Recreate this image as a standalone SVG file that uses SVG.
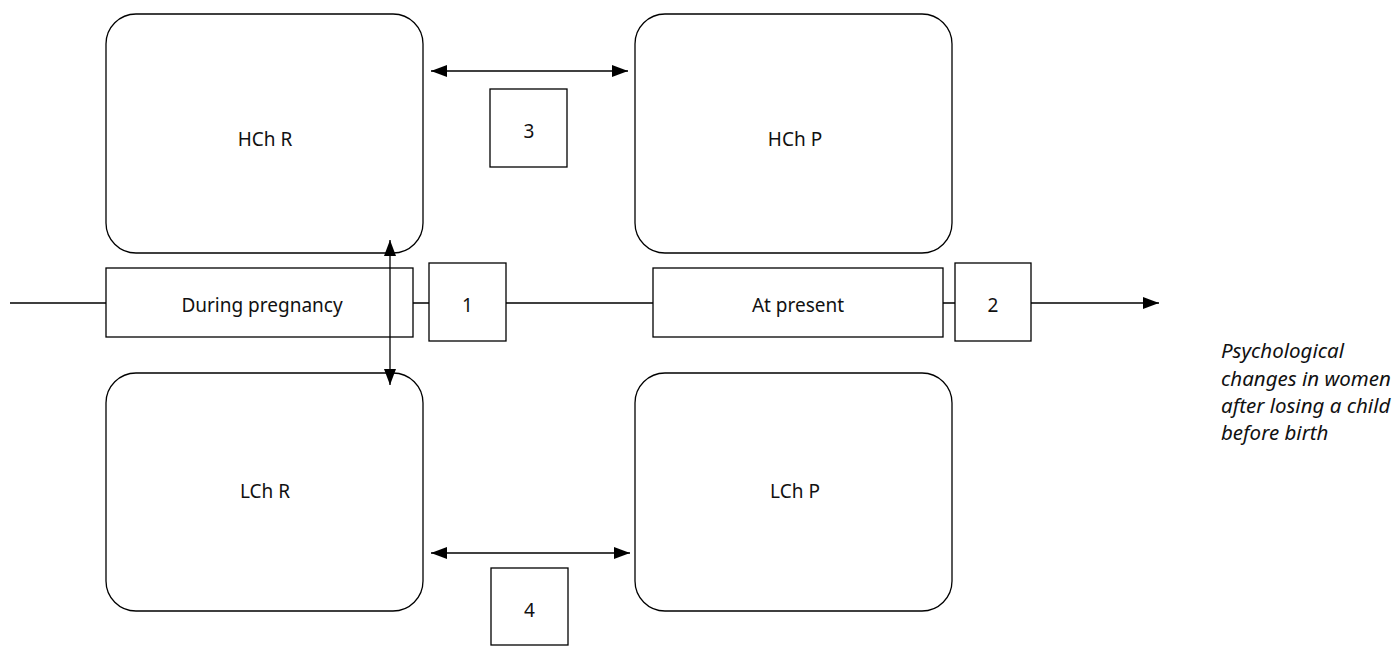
<svg xmlns="http://www.w3.org/2000/svg" width="1399" height="653" viewBox="0 0 1399 653">
<style>
.box{fill:#fff;stroke:#000;stroke-width:1.3}
.ln{fill:none;stroke:#000;stroke-width:1.3}
.t{font-family:"Noto Sans","Liberation Sans",sans-serif;font-size:19px;fill:#111;text-anchor:middle}
.cap{font-family:"Noto Sans","Liberation Sans",sans-serif;font-size:20.5px;font-style:italic;fill:#111}
</style>
<defs>
<marker id="ah" viewBox="0 0 16 12" refX="16" refY="6" markerWidth="16" markerHeight="12" markerUnits="userSpaceOnUse" orient="auto-start-reverse">
<path d="M0,0 L16,6 L0,12 z" fill="#000"/>
</marker>
</defs>
<rect width="1399" height="653" fill="#fff"/>
<g id="timeline-line">
<path class="ln" d="M10,303 H106 M413,303 H429 M506,303 H653 M943,303 H955"/>
<path class="ln" d="M1031,303 H1159" marker-end="url(#ah)"/>
</g>
<g id="hch-r"><rect class="box" x="106" y="14" width="317" height="239" rx="30"/><text class="t" x="265" y="146">HCh R</text></g>
<g id="hch-p"><rect class="box" x="635" y="14" width="317" height="239" rx="30"/><text class="t" x="795" y="146">HCh P</text></g>
<g id="lch-r"><rect class="box" x="106" y="373" width="317" height="238" rx="30"/><text class="t" x="265" y="498">LCh R</text></g>
<g id="lch-p"><rect class="box" x="635" y="373" width="317" height="238" rx="30"/><text class="t" x="795" y="498">LCh P</text></g>
<g id="during"><rect class="box" x="106" y="268" width="307" height="69"/><text class="t" x="262" y="312">During pregnancy</text></g>
<g id="present"><rect class="box" x="653" y="268" width="290" height="69"/><text class="t" x="798" y="312">At present</text></g>
<g id="n1"><rect class="box" x="429" y="263" width="77" height="78"/><text class="t" x="467.5" y="312">1</text></g>
<g id="n2"><rect class="box" x="955" y="263" width="76" height="78"/><text class="t" x="993" y="312">2</text></g>
<g id="n3"><rect class="box" x="490" y="89" width="77" height="78"/><text class="t" x="529" y="138">3</text></g>
<g id="n4"><rect class="box" x="491" y="568" width="77" height="77"/><text class="t" x="529.5" y="617">4</text></g>
<g id="connectors">
<path class="ln" d="M431,71 H628" marker-start="url(#ah)" marker-end="url(#ah)"/>
<path class="ln" d="M431,553 H630" marker-start="url(#ah)" marker-end="url(#ah)"/>
<path class="ln" d="M390,240 V385" marker-start="url(#ah)" marker-end="url(#ah)"/>
</g>
<g id="caption">
<text class="cap" x="1221" y="358">Psychological</text>
<text class="cap" x="1221" y="386">changes in women</text>
<text class="cap" x="1221" y="413">after losing a child</text>
<text class="cap" x="1221" y="440">before birth</text>
</g>
</svg>
